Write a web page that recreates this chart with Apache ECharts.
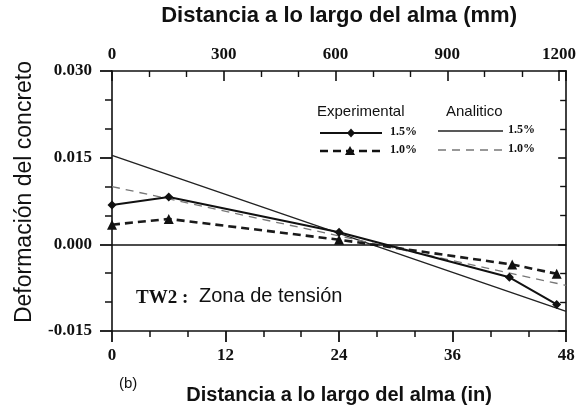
<!DOCTYPE html>
<html>
<head>
<meta charset="utf-8">
<script src="https://cdn.jsdelivr.net/npm/echarts@6/dist/echarts.min.js"></script>
<style>
  html, body { margin: 0; padding: 0; background: #fff; }
  #chart { width: 579px; height: 410px; }
</style>
</head>
<body>
<div id="chart"></div>
<script>
// Position along the web (in) and concrete strain readings
const expX15 = [0, 6, 24, 42, 47];
const expY15 = [0.0068, 0.0082, 0.0021, -0.0057, -0.0104];
const expX10 = [0, 6, 24, 42.3, 47];
const expY10 = [0.0034, 0.0044, 0.0008, -0.0035, -0.0051];
const anaX15 = [0, 48];
const anaY15 = [0.0154, -0.0116];
const anaX10 = [0, 48];
const anaY10 = [0.0100, -0.0071];

const inchTicks = [0, 12, 24, 36, 48];
const mmTicks = [0, 300, 600, 900, 1200];
const strainTicks = [-0.015, 0.000, 0.015, 0.030];

const pairs = (xs, ys) => xs.map((x, i) => [x, ys[i]]);

const serif = '"Liberation Serif", "Times New Roman", serif';
const sans = '"Liberation Sans", Arial, sans-serif';
const ink = '#111';

const chart = echarts.init(document.getElementById('chart'), null, { renderer: 'canvas' });

const axisLineStyle = { color: ink, width: 1.6 };

chart.setOption({
  animation: false,
  backgroundColor: '#fff',
  grid: { left: 112, right: 12, top: 70, bottom: 77 },
  xAxis: [
    {
      type: 'value', position: 'bottom',
      min: inchTicks[0], max: inchTicks[inchTicks.length - 1], interval: 12,
      name: 'Distancia a lo largo del alma (in)', nameLocation: 'middle', nameGap: 54,
      nameTextStyle: { fontFamily: sans, fontWeight: 'bold', fontSize: 20, color: ink },
      axisLine: { show: true, onZero: false, lineStyle: axisLineStyle },
      axisTick: { show: true, inside: false, length: 11, lineStyle: { color: ink, width: 1.8 } },
      minorTick: { show: true, splitNumber: 3, length: 6, lineStyle: { color: ink, width: 1.5 } },
      axisLabel: { margin: 16, fontFamily: serif, fontWeight: 'bold', fontSize: 17, color: ink },
      splitLine: { show: false }
    },
    {
      type: 'value', position: 'top',
      min: 0, max: inchTicks[inchTicks.length - 1] * 25.4, interval: 300,
      name: 'Distancia a lo largo del alma (mm)', nameLocation: 'middle', nameGap: 44,
      nameTextStyle: { fontFamily: sans, fontWeight: 'bold', fontSize: 22, color: ink },
      axisLine: { show: true, onZero: false, lineStyle: axisLineStyle },
      axisTick: { show: true, inside: true, length: 10, lineStyle: { color: ink, width: 1.6 } },
      minorTick: { show: true, splitNumber: 3, length: 6, lineStyle: { color: ink, width: 1.4 } },
      axisLabel: {
        margin: 8, fontFamily: serif, fontWeight: 'bold', fontSize: 17, color: ink,
        formatter: v => (mmTicks.includes(Math.round(v)) && Math.abs(v - Math.round(v)) < 1e-6) ? String(Math.round(v)) : ''
      },
      splitLine: { show: false }
    }
  ],
  yAxis: [
    {
      type: 'value', position: 'left',
      min: strainTicks[0], max: strainTicks[strainTicks.length - 1], interval: 0.015,
      axisLine: { show: true, onZero: false, lineStyle: axisLineStyle },
      axisTick: { show: true, inside: false, length: 12, lineStyle: { color: ink, width: 1.8 } },
      minorTick: { show: true, splitNumber: 3, length: 7, lineStyle: { color: ink, width: 1.5 } },
      axisLabel: {
        margin: 20, fontFamily: serif, fontWeight: 'bold', fontSize: 17, color: ink,
        formatter: v => (Math.abs(v) < 1e-9 ? 0 : v).toFixed(3)
      },
      splitLine: { show: false }
    },
    {
      type: 'value', position: 'right',
      min: strainTicks[0], max: strainTicks[strainTicks.length - 1], interval: 0.015,
      axisLine: { show: true, onZero: false, lineStyle: axisLineStyle },
      axisTick: { show: true, inside: true, length: 8, lineStyle: { color: ink, width: 1.6 } },
      minorTick: { show: true, splitNumber: 3, length: 6, lineStyle: { color: ink, width: 1.4 } },
      axisLabel: { show: false },
      splitLine: { show: false }
    }
  ],
  series: [
    {
      name: 'Analitico 1.5%', type: 'line', xAxisIndex: 0, yAxisIndex: 0,
      data: pairs(anaX15, anaY15), showSymbol: false, symbol: 'none',
      lineStyle: { color: '#222', width: 1.4 },
      markLine: {
        silent: true, symbol: 'none', label: { show: false },
        lineStyle: { color: ink, width: 1.6, type: 'solid' },
        data: [{ yAxis: 0 }]
      },
      z: 3
    },
    {
      name: 'Analitico 1.0%', type: 'line', xAxisIndex: 0, yAxisIndex: 0,
      data: pairs(anaX10, anaY10), showSymbol: false, symbol: 'none',
      lineStyle: { color: '#777', width: 1.3, type: [8, 6] },
      z: 3
    },
    {
      name: 'Experimental 1.5%', type: 'line', xAxisIndex: 0, yAxisIndex: 0,
      data: pairs(expX15, expY15), symbol: 'diamond', symbolSize: 9,
      itemStyle: { color: ink },
      lineStyle: { color: ink, width: 2 },
      z: 4
    },
    {
      name: 'Experimental 1.0%', type: 'line', xAxisIndex: 0, yAxisIndex: 0,
      data: pairs(expX10, expY10), symbol: 'triangle', symbolSize: 10,
      itemStyle: { color: ink },
      lineStyle: { color: '#1a1a1a', width: 2.6, type: [8, 5] },
      z: 4
    }
  ],
  graphic: [
    // vertical axis title
    {
      type: 'text', x: 25, y: 192, rotation: Math.PI / 2,
      style: { text: 'Deformación del concreto', font: '23px ' + sans, fill: ink, align: 'center', verticalAlign: 'middle' }
    },
    // key for the two groups of curves
    { type: 'text', left: 317, top: 104, style: { text: 'Experimental', font: '15px ' + sans, fill: ink } },
    { type: 'text', left: 446, top: 104, style: { text: 'Analitico', font: '15px ' + sans, fill: ink } },
    { type: 'line', shape: { x1: 320, y1: 133, x2: 382, y2: 133 }, style: { stroke: ink, lineWidth: 2 } },
    { type: 'polygon', shape: { points: [[351, 128.5], [355, 133], [351, 137.5], [347, 133]] }, style: { fill: ink } },
    { type: 'text', left: 390, top: 126, style: { text: '1.5%', font: 'bold 12px ' + serif, fill: ink } },
    { type: 'line', shape: { x1: 320, y1: 151, x2: 382, y2: 151 }, style: { stroke: ink, lineWidth: 2.6, lineDash: [8, 5] } },
    { type: 'polygon', shape: { points: [[350, 146], [355, 155], [345, 155]] }, style: { fill: ink } },
    { type: 'text', left: 390, top: 144, style: { text: '1.0%', font: 'bold 12px ' + serif, fill: ink } },
    { type: 'line', shape: { x1: 438, y1: 131, x2: 503, y2: 131 }, style: { stroke: '#222', lineWidth: 1.4 } },
    { type: 'text', left: 508, top: 124, style: { text: '1.5%', font: 'bold 12px ' + serif, fill: ink } },
    { type: 'line', shape: { x1: 438, y1: 150, x2: 503, y2: 150 }, style: { stroke: '#777', lineWidth: 1.3, lineDash: [8, 6] } },
    { type: 'text', left: 508, top: 143, style: { text: '1.0%', font: 'bold 12px ' + serif, fill: ink } },
    // specimen tag
    { type: 'text', left: 136, top: 289, style: { text: 'TW2 :', font: 'bold 19px ' + serif, fill: ink } },
    { type: 'text', left: 199, top: 286, style: { text: 'Zona de tensión', font: '20px ' + sans, fill: ink } },
    // panel letter
    { type: 'text', left: 119, top: 376, style: { text: '(b)', font: '15px ' + sans, fill: ink } }
  ]
});
</script>
</body>
</html>
